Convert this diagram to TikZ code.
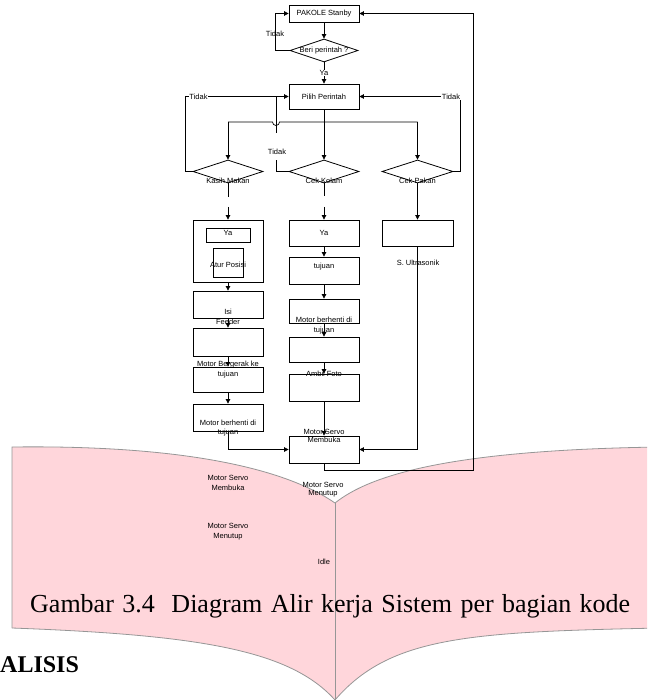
\documentclass[tikz,border=0pt]{standalone}
\usepackage{fontspec}
\setmainfont{Liberation Serif}
\setsansfont{Liberation Sans}
\usetikzlibrary{shapes.geometric,arrows.meta}
\definecolor{pinkfill}{RGB}{255,214,219}
\definecolor{pagegray}{RGB}{150,150,150}
\begin{document}
\begin{tikzpicture}[x=1pt,y=-1pt,
  box/.style={draw, rectangle, minimum width=70pt, inner sep=0pt, line width=0.8pt,
    font=\sffamily\fontsize{7.5}{9}\selectfont},
  dia/.style={draw, diamond, minimum width=70pt, minimum height=23pt, inner sep=0pt,
    line width=0.8pt},
  lbl/.style={font=\sffamily\fontsize{7.5}{9}\selectfont, inner sep=0pt, align=center},
  arr/.style={-{Triangle[length=4.5pt,width=4.5pt]}, line width=0.7pt},
  conn/.style={line width=0.7pt},
  pageline/.style={draw=pagegray, line width=0.8pt}]
\useasboundingbox (0,0) rectangle (647,700);
% ---------- pink book shape ----------
\begin{scope}
\clip (0,0) rectangle (647,700);
\fill[pinkfill] (12,447) .. controls (170,445) and (280,465) .. (335,503)
  .. controls (370,475) and (450,450) .. (660,447) -- (660,628)
  .. controls (470,632) and (390,636) .. (335,700)
  .. controls (290,650) and (200,635) .. (12,628) -- cycle;
\draw[pageline] (12,628) -- (12,447) .. controls (170,445) and (280,465) .. (335,503)
  .. controls (370,475) and (450,450) .. (660,447);
\draw[pageline] (660,628) .. controls (470,632) and (390,636) .. (335,700)
  .. controls (290,650) and (200,635) .. (12,628);
\draw[pageline] (335,503) -- (335,700);
\end{scope}
% ---------- top ----------
\node[box, minimum height=17pt] (stanby) at (324,13.5) {PAKOLE Stanby};
\node[dia, minimum width=68pt] (beri) at (324,50.5) {};
\node[box, minimum height=25pt] (pilih) at (324,96.5) {Pilih Perintah};
% ---------- decisions ----------
\node[dia] (km) at (228,171.5) {};
\node[dia] (ck) at (324,171.5) {};
\node[dia, minimum width=71pt] (cp) at (417.5,171.5) {};
% ---------- column 1 ----------
\node[box, minimum height=62pt] (kbig) at (228,251) {};
\node[box, minimum width=44pt, minimum height=14pt] (kya) at (228,235) {};
\node[box, minimum width=30pt, minimum height=29pt] (katur) at (228,262.5) {};
\node[box, minimum height=27pt] (kisi) at (228,304.5) {};
\node[box, minimum height=28pt] (kb3) at (228,342) {};
\node[box, minimum height=25pt] (kb4) at (228,379.5) {};
\node[box, minimum height=27pt] (kb5) at (228,417.5) {};
% ---------- column 2 ----------
\node[box, minimum height=26pt] (c1) at (324,233) {};
\node[box, minimum height=27pt] (c2) at (324,270.5) {};
\node[box, minimum height=24pt] (c3) at (324,311) {};
\node[box, minimum height=25pt] (c4) at (324,349.5) {};
\node[box, minimum height=27pt] (c5) at (324,387.5) {};
\node[box, minimum height=27pt] (servo) at (324,449.5) {};
% ---------- column 3 ----------
\node[box, minimum width=71pt, minimum height=26pt] (p1) at (417.5,233) {};
% ---------- coordinates ----------
\coordinate (jl) at (228,122);
\coordinate (jr) at (417.5,122);
\coordinate (jm) at (276,97);
\coordinate (tkA) at (276,133);
\coordinate (tkB) at (276,160);
\coordinate (kmA) at (228,197);
\coordinate (kmB) at (228,207);
\coordinate (ckA) at (324,196);
\coordinate (ckB) at (324,207);
\coordinate (cr) at (473,470);
% ---------- connectors ----------
\draw[arr] (stanby.south) -- (beri.north);
\draw[arr] (beri.west) -- ++(-14,0) |- (stanby.west);
\draw[arr] (beri.south) -- (pilih.north);
\draw[arr] (km.west) -- ++(-7,0) |- (pilih.west);
\draw[arr] (cp.east) -- ++(6.5,0) |- (pilih.east);
\draw[arr] (pilih.south) -- (ck.north);
\draw[conn] (jl) -- (272.5,122) arc[start angle=180, end angle=0, radius=3.5] -- (jr);
\draw[arr] (jl) -- (km.north);
\draw[arr] (jr) -- (cp.north);
\draw[conn] (jm) -- (tkA);
\draw[conn] (ck.west) -| (tkB);
\draw[conn] (km.south) -- (kmA);
\draw[arr] (kmB) -- (kbig.north);
\draw[conn] (ck.south) -- (ckA);
\draw[arr] (ckB) -- (c1.north);
\draw[arr] (cp.south) -- (p1.north);
\draw[arr] (kbig.south) -- (kisi.north);
\draw[arr] (kisi.south) -- (kb3.north);
\draw[arr] (kb3.south) -- (kb4.north);
\draw[arr] (kb4.south) -- (kb5.north);
\draw[arr] (kb5.south) |- (servo.west);
\draw[arr] (c1.south) -- (c2.north);
\draw[arr] (c2.south) -- (c3.north);
\draw[arr] (c3.south) -- (c4.north);
\draw[arr] (c4.south) -- (c5.north);
\draw[arr] (c5.south) -- (servo.north);
\draw[arr] (p1.south) |- (servo.east);
\draw[arr] (servo.south) |- (cr) |- (stanby.east);
% ---------- labels ----------
\node[lbl] (tberi) at (324,51) {Beri perintah ?};
\node[lbl] (tTidak1) at (275,34) {Tidak};
\node[lbl, fill=white, inner sep=0.5pt] (tYa0) at (324,73) {Ya};
\node[lbl, fill=white, inner sep=0.5pt] (tTidak2) at (198.5,97) {Tidak};
\node[lbl, fill=white, inner sep=0.5pt] (tTidak3) at (451,97) {Tidak};
\node[lbl] (tTidak4) at (277,152) {Tidak};
\node[lbl] (tkm) at (228,181) {Kasih Makan};
\node[lbl] (tck) at (324,181) {Cek Kolam};
\node[lbl] (tcp) at (417.5,181) {Cek Pakan};
\node[lbl] (tya1) at (228,232.5) {Ya};
\node[lbl] (tatur) at (228,265) {Atur Posisi};
\node[lbl, font=\sffamily\fontsize{7.5}{10.5}\selectfont] (tisi) at (228,317) {Isi\\Feeder};
\node[lbl, font=\sffamily\fontsize{7.5}{10}\selectfont] (tgerak) at (228,369.5) {Motor Bergerak ke\\tujuan};
\node[lbl, font=\sffamily\fontsize{7.5}{9}\selectfont] (tberh1) at (228,428.5) {Motor berhenti di\\tujuan};
\node[lbl] (tya2) at (324,232.5) {Ya};
\node[lbl] (ttuj) at (324,267) {tujuan};
\node[lbl, font=\sffamily\fontsize{7.5}{10.5}\selectfont] (tberh2) at (324,325.8) {Motor berhenti di\\tujuan};
\node[lbl] (tfoto) at (324,374) {Ambil Foto};
\node[lbl, font=\sffamily\fontsize{7.5}{8}\selectfont] (tbuka1) at (324,436) {Motor Servo\\Membuka};
\node[lbl] (tultra) at (418,263) {S. Ultrasonik};
\node[lbl, font=\sffamily\fontsize{7.5}{10}\selectfont] (tbuka2) at (228,483) {Motor Servo\\Membuka};
\node[lbl, font=\sffamily\fontsize{7.5}{10}\selectfont] (ttutup1) at (228,532) {Motor Servo\\Menutup};
\node[lbl, font=\sffamily\fontsize{7.5}{8}\selectfont] (ttutup2) at (323,490) {Motor Servo\\Menutup};
\node[lbl] (tidle) at (324,562) {Idle};
% ---------- caption ----------
\node[anchor=base west, inner sep=0pt, font=\fontsize{26}{26}\selectfont] (cap) at (30,612)
  {\makebox[600pt][s]{Gambar 3.4\ \ Diagram Alir kerja Sistem per bagian kode}};
\node[anchor=base west, inner sep=0pt, font=\bfseries\fontsize{24}{24}\selectfont] (alisis) at (0,672) {ALISIS};
\end{tikzpicture}
\end{document}
